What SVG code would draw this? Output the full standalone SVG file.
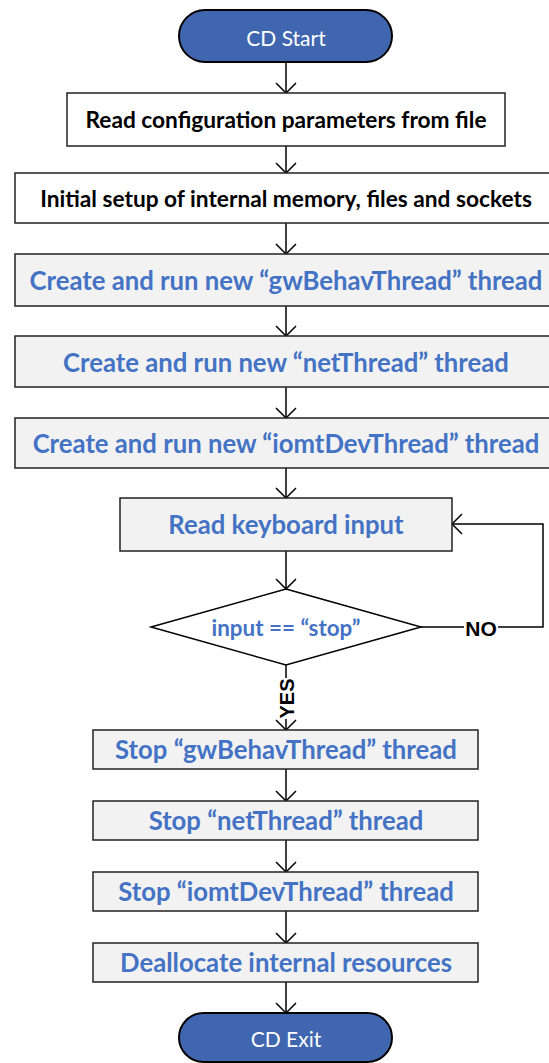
<svg xmlns="http://www.w3.org/2000/svg" width="549" height="1063" viewBox="0 0 549 1063">
<style>
.pill{fill:#4066b0;stroke:#000;stroke-width:2}
.box{fill:#f2f2f2;stroke:#222;stroke-width:1.5}
.wbox{fill:#fff;stroke:#222;stroke-width:1.5}
.t{font-family:Lato,"Open Sans","Liberation Sans",sans-serif;text-anchor:middle;dominant-baseline:central}
.tb{font-weight:bold;fill:#4472c4;font-size:25.7px}
.tk{font-weight:bold;fill:#000;font-size:22.7px}
.tw{fill:#fff;font-size:21px}
.lbl{font-family:"Liberation Sans",Arial,sans-serif;font-weight:bold;font-size:21px;fill:#000;text-anchor:middle;dominant-baseline:central}
.c{fill:none;stroke:#000;stroke-width:1.5;marker-end:url(#ah)}
</style>
<defs>
<marker id="ah" viewBox="0 0 12 22" refX="11" refY="11" markerWidth="12" markerHeight="22" markerUnits="userSpaceOnUse" orient="auto">
<path d="M1,1 L11,11 L1,21" fill="none" stroke="#000" stroke-width="1.5"/>
</marker>
</defs>
<g id="connectors">
<path class="c" d="M286,62 V93"/>
<path class="c" d="M286,146 V173"/>
<path class="c" d="M286,223 V254"/>
<path class="c" d="M286,306 V336"/>
<path class="c" d="M286,387 V418"/>
<path class="c" d="M286,468 V498"/>
<path class="c" d="M286,551 V589"/>
<path class="c" d="M286,665 V730"/>
<path class="c" d="M286,769 V801"/>
<path class="c" d="M286,840 V872"/>
<path class="c" d="M286,911 V943"/>
<path class="c" d="M286,982 V1013"/>
<path class="c" d="M421,627 H543 V524 H452"/>
<rect x="464" y="616" width="34" height="22" fill="#fff"/>
<text class="lbl" x="481" y="628">NO</text>
<rect x="276" y="678" width="21" height="41" fill="#fff"/>
<text class="lbl" transform="translate(286.5,698.5) rotate(-90)" x="0" y="0" style="font-size:20px">YES</text>
</g>
<g id="start"><rect class="pill" x="179" y="10" width="213" height="52" rx="26"/><text class="t tw" x="286" y="37">CD Start</text></g>
<g id="readConfig"><rect class="wbox" x="67" y="93" width="438" height="53"/><text class="t tk" x="286" y="119">Read configuration parameters from file</text></g>
<g id="initSetup"><rect class="wbox" x="15" y="173" width="542" height="50"/><text class="t tk" x="286" y="198">Initial setup of internal memory, files and sockets</text></g>
<g id="createGw"><rect class="box" x="15" y="254" width="542" height="52"/><text class="t tb" x="286" y="280">Create and run new “gwBehavThread” thread</text></g>
<g id="createNet"><rect class="box" x="15" y="336" width="542" height="51"/><text class="t tb" x="286" y="362">Create and run new “netThread” thread</text></g>
<g id="createIomt"><rect class="box" x="15" y="418" width="542" height="50"/><text class="t tb" x="286" y="443">Create and run new “iomtDevThread” thread</text></g>
<g id="readKeyboard"><rect class="box" x="120" y="498" width="332" height="53"/><text class="t tb" x="286" y="524">Read keyboard input</text></g>
<g id="decision"><polygon points="286,589 421,627 286,665 151,627" fill="#fff" stroke="#000" stroke-width="1.5"/><text class="t tb" x="286" y="627" style="font-size:22.4px">input == “stop”</text></g>
<g id="stopGw"><rect class="box" x="93" y="730" width="385" height="39"/><text class="t tb" x="286" y="749">Stop “gwBehavThread” thread</text></g>
<g id="stopNet"><rect class="box" x="93" y="801" width="385" height="39"/><text class="t tb" x="286" y="820">Stop “netThread” thread</text></g>
<g id="stopIomt"><rect class="box" x="93" y="872" width="385" height="39"/><text class="t tb" x="286" y="891">Stop “iomtDevThread” thread</text></g>
<g id="dealloc"><rect class="box" x="93" y="943" width="385" height="39"/><text class="t tb" x="286" y="962">Deallocate internal resources</text></g>
<g id="exit"><rect class="pill" x="179" y="1013" width="213" height="49" rx="24.5"/><text class="t tw" x="286" y="1038">CD Exit</text></g>
</svg>
